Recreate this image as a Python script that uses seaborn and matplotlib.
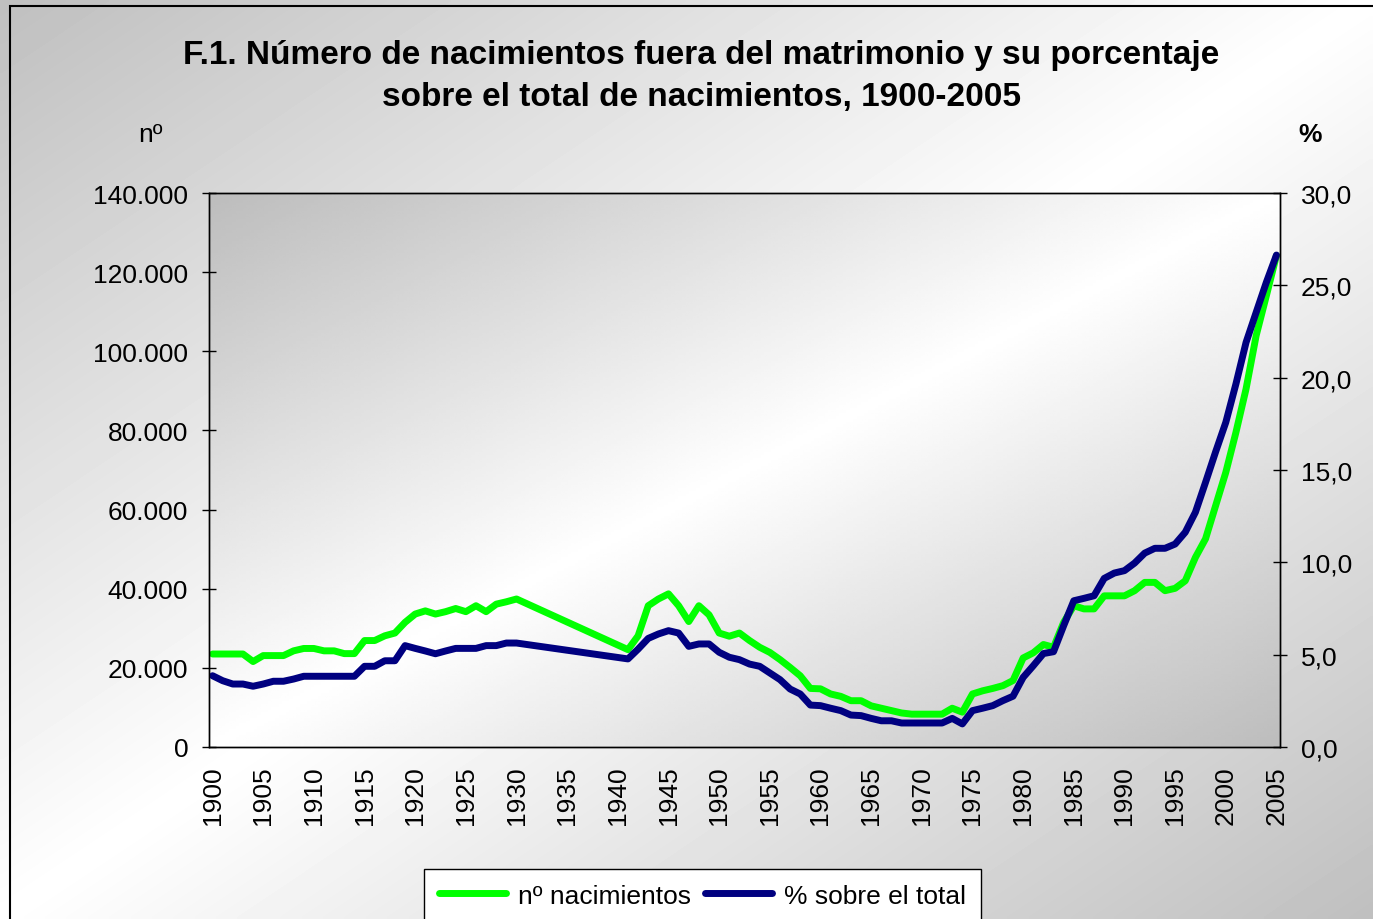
import numpy as np
import pandas as pd
import seaborn as sns
import matplotlib.pyplot as plt
from matplotlib.patches import Rectangle
from matplotlib.ticker import MultipleLocator, FuncFormatter

# Data (no data for 1931-1940)
years = list(range(1900, 1931)) + list(range(1941, 2006))

births = [
    23500, 23500, 23500, 23500, 21600, 23100, 23100, 23100, 24300, 24900,  # 1900-1909
    24900, 24300, 24300, 23600, 23600, 26900, 26900, 28100, 28800, 31500,  # 1910-1919
    33600, 34400, 33600, 34200, 35000, 34200, 35700, 34200, 36100, 36700,  # 1920-1929
    37400,                                                                  # 1930
    24600, 28100, 35700, 37400, 38700, 35700, 31700, 35700, 33400,         # 1941-1949
    28800, 28000, 28800, 26900, 25200, 23900, 22100, 20100, 18000, 14800,  # 1950-1959
    14700, 13400, 12800, 11700, 11700, 10400, 9800, 9200, 8600, 8300,      # 1960-1969
    8300, 8300, 8300, 9800, 8800, 13400, 14200, 14800, 15500, 16800,       # 1970-1979
    22500, 23800, 25900, 25200, 31500, 35700, 34900, 34900, 38200, 38200,  # 1980-1989
    38200, 39500, 41600, 41600, 39500, 40100, 42000, 47900, 52600, 61000,  # 1990-1999
    69400, 79500, 90500, 104000, 114000, 124200,                           # 2000-2005
]

pct = [
    3.86, 3.59, 3.41, 3.41, 3.29, 3.41, 3.56, 3.56, 3.68, 3.83,  # 1900-1909
    3.83, 3.83, 3.83, 3.83, 3.83, 4.37, 4.37, 4.67, 4.67, 5.49,  # 1910-1919
    5.34, 5.20, 5.05, 5.20, 5.34, 5.34, 5.34, 5.49, 5.49, 5.63,  # 1920-1929
    5.63,                                                        # 1930
    4.77, 5.30, 5.88, 6.12, 6.30, 6.17, 5.45, 5.58, 5.58,        # 1941-1949
    5.13, 4.86, 4.73, 4.49, 4.37, 4.01, 3.65, 3.14, 2.87, 2.27,  # 1950-1959
    2.24, 2.10, 1.97, 1.73, 1.70, 1.55, 1.42, 1.42, 1.30, 1.30,  # 1960-1969
    1.30, 1.30, 1.30, 1.55, 1.25, 1.97, 2.10, 2.24, 2.51, 2.75,  # 1970-1979
    3.77, 4.40, 5.06, 5.16, 6.57, 7.92, 8.05, 8.19, 9.13, 9.42,  # 1980-1989
    9.55, 9.96, 10.50, 10.76, 10.76, 10.99, 11.63, 12.71, 14.33, 15.99,  # 1990-1999
    17.58, 19.66, 21.91, 23.54, 25.16, 26.64,                   # 2000-2005
]

title = ("F.1. Número de nacimientos fuera del matrimonio y su porcentaje\n"
         "sobre el total de nacimientos, 1900-2005")
label_births = "nº nacimientos"
label_pct = "% sobre el total"

df = pd.DataFrame({"year": years, "births": births, "pct": pct})

sns.set_style("white")
plt.rcParams["font.family"] = ["Liberation Sans", "DejaVu Sans"]
plt.rcParams["text.color"] = "black"
plt.rcParams["xtick.color"] = "black"
plt.rcParams["ytick.color"] = "black"

fig = plt.figure(figsize=(13.73, 9.2), dpi=100)


def diag_gradient(h, w, dark=0.75):
    u = np.linspace(0, 1, w)[None, :]
    v = np.linspace(0, 1, h)[:, None]
    t = np.abs((u + v) / 2 - 0.5) * 2
    return 1 - (1 - dark) * t


# figure background with gradient and border
bg = fig.add_axes([0, 0, 1, 1], zorder=-10)
bg.imshow(diag_gradient(200, 300, 0.75), extent=[0, 1, 0, 1], aspect="auto",
          cmap="gray", vmin=0, vmax=1, interpolation="bilinear")
bg.axis("off")
fig.patches.append(Rectangle((10 / 1373, -0.1), 1.2, (920 - 7) / 920 + 0.1,
                             transform=fig.transFigure, fill=False,
                             edgecolor="black", linewidth=1.5))

ax = fig.add_axes([209 / 1373, 1 - 748 / 920, (1280 - 209) / 1373, (748 - 194) / 920])
ax.patch.set_alpha(0)
ax.imshow(diag_gradient(200, 300, 0.74), extent=[0, 1, 0, 1], transform=ax.transAxes,
          aspect="auto", cmap="gray", vmin=0, vmax=1, interpolation="bilinear", zorder=0)

sns.lineplot(data=df, x="year", y="births", ax=ax, color="#00FF00", linewidth=5,
             solid_capstyle="round", solid_joinstyle="round", label=label_births, legend=False)
ax2 = ax.twinx()
sns.lineplot(data=df, x="year", y="pct", ax=ax2, color="#000080", linewidth=5,
             solid_capstyle="round", solid_joinstyle="round", label=label_pct, legend=False)

ax.set_xlim(1899.65, 2005.35)
ax.set_ylim(0, 140000)
ax2.set_ylim(0, 30)
ax.set_xlabel("")
ax.set_ylabel("")
ax2.set_ylabel("")

ax.yaxis.set_major_locator(MultipleLocator(20000))
ax.yaxis.set_major_formatter(FuncFormatter(lambda v, p: f"{int(v):,}".replace(",", ".")))
ax2.yaxis.set_major_locator(MultipleLocator(5))
ax2.yaxis.set_major_formatter(FuncFormatter(lambda v, p: f"{v:.1f}".replace(".", ",")))
ax.xaxis.set_major_locator(MultipleLocator(5))
ax.xaxis.set_minor_locator(MultipleLocator(1))
ax.xaxis.set_major_formatter(FuncFormatter(lambda v, p: f"{int(round(v))}"))

for a in (ax, ax2):
    for s in a.spines.values():
        s.set_color("black")
        s.set_linewidth(1)
    a.grid(False)

ax.tick_params(axis="both", which="both", direction="inout", length=10, width=1,
               color="black", labelcolor="black", labelsize=19, pad=10)
ax.tick_params(axis="x", which="major", labelrotation=90, pad=8)
ax2.tick_params(axis="y", direction="inout", length=10, width=1, color="black",
                labelcolor="black", labelsize=19, pad=10)

fig.text(0.511, 0.917, title, ha="center", va="center", fontsize=24,
         fontweight="bold", linespacing=1.45, color="black")
fig.text(150 / 1373, 1 - 135 / 920, "nº", ha="center", va="center", fontsize=19)
fig.text(1310 / 1373, 1 - 135 / 920, "%", ha="center", va="center", fontsize=19,
         fontweight="bold")

handles = ax.get_lines()[:1] + ax2.get_lines()[:1]
leg = fig.legend(handles, [label_births, label_pct], loc="upper left",
                 bbox_to_anchor=(424 / 1373, 1 - 870 / 920), bbox_transform=fig.transFigure,
                 ncol=2, fontsize=19, frameon=True, fancybox=False, framealpha=1,
                 edgecolor="black", facecolor="white", handlelength=2.55,
                 handletextpad=0.45, columnspacing=0.55, borderpad=0.55, borderaxespad=0)
leg.get_frame().set_linewidth(1)

fig.savefig("out.png", dpi=100)
